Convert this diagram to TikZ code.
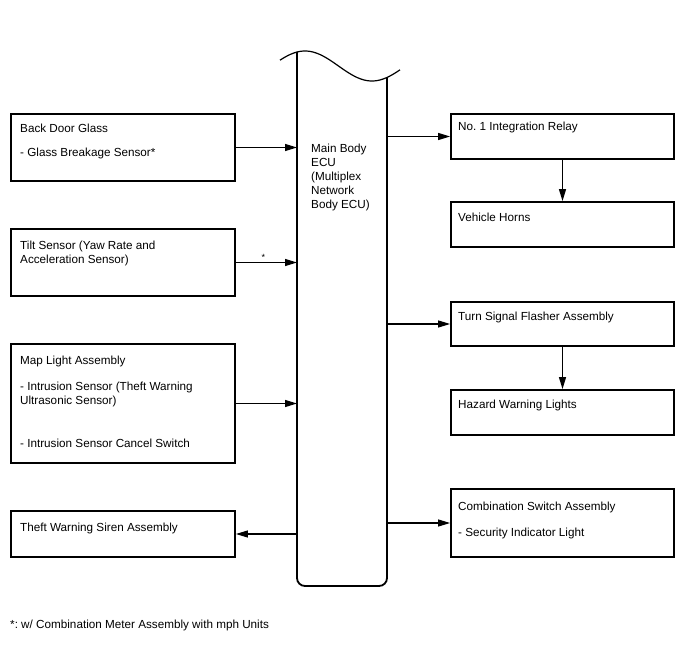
\documentclass[tikz,border=0pt]{standalone}
\usepackage{fontspec}
\setmainfont{Liberation Sans}
\usetikzlibrary{arrows.meta}
\frenchspacing
\begin{document}
\begin{tikzpicture}[x=1pt,y=-1pt,
  box/.style={draw, line width=1.8pt, inner sep=0pt},
  lbox/.style={box, minimum width=224pt},
  rbox/.style={box, minimum width=223pt},
  txt/.style={inner sep=0pt, anchor=base west, align=left, font=\fontsize{11.7}{14}\selectfont},
  arr/.style={line width=1.2pt, -{Triangle[length=12pt,width=7pt]}},
  eculine/.style={line width=1.8pt}]
\useasboundingbox (0,0) rectangle (688,658);

% ECU
\node[inner sep=0pt, outer sep=0pt, minimum width=90pt, minimum height=534pt] (ecu) at (342,319) {};
\draw[eculine, rounded corners=8pt] (297,52) |- (387,586) -- (387,77.5);
\draw[line width=1.2pt, domain=280:400, samples=80, smooth] plot (\x, {66-15*cos((\x-305)*2.6866)});
\node[txt] (ecut) at (311,208) {Main Body\\ECU\\(Multiplex\\Network\\Body ECU)};

% left boxes
\node[lbox, minimum height=67pt] (bdg) at (123,147.5) {};
\node[txt] (bdg1) at (20,132) {Back Door Glass};
\node[txt] (bdg2) at (20,157) {- Glass Breakage Sensor*};

\node[lbox, minimum height=67pt] (tilt) at (123,262.5) {};
\node[txt] (tiltt) at (20,263) {Tilt Sensor (Yaw Rate and\\Acceleration Sensor)};

\node[lbox, minimum height=119pt] (map) at (123,403.5) {};
\node[txt] (map1) at (20,364) {Map Light Assembly};
\node[txt] (map2) at (20,404) {- Intrusion Sensor (Theft Warning\\Ultrasonic Sensor)};
\node[txt] (map3) at (20,447) {- Intrusion Sensor Cancel Switch};

\node[lbox, minimum height=46pt] (siren) at (123,534) {};
\node[txt] (sirent) at (20,531) {Theft Warning Siren Assembly};

% right boxes
\node[rbox, minimum height=45pt] (relay) at (562.5,136.5) {};
\node[txt] (relayt) at (458,131) {No. 1 Integration Relay};
\node[rbox, minimum height=45pt] (horns) at (562.5,224.5) {};
\node[txt] (hornst) at (458,221) {Vehicle Horns};

\node[rbox, minimum height=44pt] (turn) at (562.5,324) {};
\node[txt] (turnt) at (458,320) {Turn Signal Flasher Assembly};
\node[rbox, minimum height=45pt] (hazard) at (562.5,412.5) {};
\node[txt] (hazardt) at (458,408) {Hazard Warning Lights};

\node[rbox, minimum height=68pt] (comb) at (562.5,523) {};
\node[txt] (comb1) at (458,510) {Combination Switch Assembly};
\node[txt] (comb2) at (458,536) {- Security Indicator Light};

% connectors
\draw[arr] (bdg.east) -- (bdg.east -| ecu.west);
\draw[arr] (tilt.east) -- node[pos=0.45, above=1pt, inner sep=0pt, font=\fontsize{9}{10}\selectfont] (star) {*} (tilt.east -| ecu.west);
\draw[arr] (map.east) -- (map.east -| ecu.west);
\draw[arr] (siren.east -| ecu.west) -- (siren.east);

\draw[arr] (relay.west -| ecu.east) -- (relay.west);
\draw[arr] (turn.west -| ecu.east) -- (turn.west);
\draw[arr] (comb.west -| ecu.east) -- (comb.west);
\draw[arr] (relay.south) -- (horns.north);
\draw[arr] (turn.south) -- (hazard.north);

% footnote
\node[txt] (foot) at (10,628) {*: w/ Combination Meter Assembly with mph Units};
\end{tikzpicture}
\end{document}
